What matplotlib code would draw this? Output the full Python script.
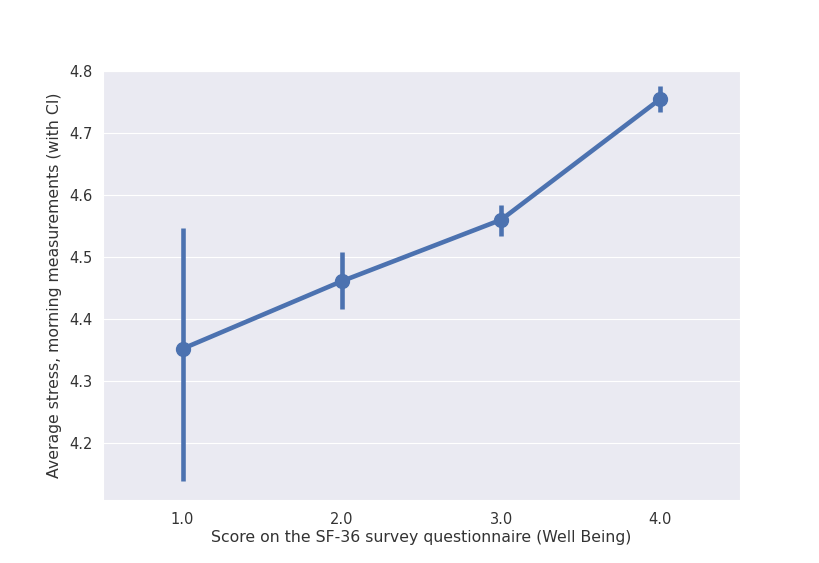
import matplotlib
matplotlib.use("Agg")
import matplotlib.pyplot as plt
import seaborn as sns
import numpy as np

sns.set_style("darkgrid")
plt.rcParams['font.family'] = ['DejaVu Sans']

categories = ["1.0", "2.0", "3.0", "4.0"]
means = [4.352, 4.461, 4.560, 4.755]
ci_low = [4.139, 4.416, 4.534, 4.734]
ci_high = [4.547, 4.508, 4.584, 4.776]

color = "#4c72b0"
fig = plt.figure(figsize=(8.2, 5.63), dpi=100)
ax = fig.add_axes([103/820, 1 - 500/563, (740-103)/820, (500-71)/563])
x = np.arange(len(categories))
ax.vlines(x, ci_low, ci_high, color=color, lw=3.3, zorder=3)
ax.plot(x, means, color=color, lw=3.3, marker="o", ms=10, zorder=4)
ax.set_xticks(x)
ax.set_xticklabels(categories)
ax.set_xlim(-0.5, 3.5)
ax.set_ylim(4.108, 4.8)
ax.set_yticks([4.2, 4.3, 4.4, 4.5, 4.6, 4.7, 4.8])
ax.grid(False, axis="x")
ax.tick_params(labelsize=10.5, colors="#333333", pad=4)
ax.tick_params(axis="x", pad=5)
ax.set_xlabel("Score on the SF-36 survey questionnaire (Well Being)", fontsize=11.3, color="#333333", labelpad=2)
ax.set_ylabel("Average stress, morning measurements (with CI)", fontsize=11.3, color="#333333", labelpad=5)
fig.savefig("out.png", dpi=100, facecolor="white")
